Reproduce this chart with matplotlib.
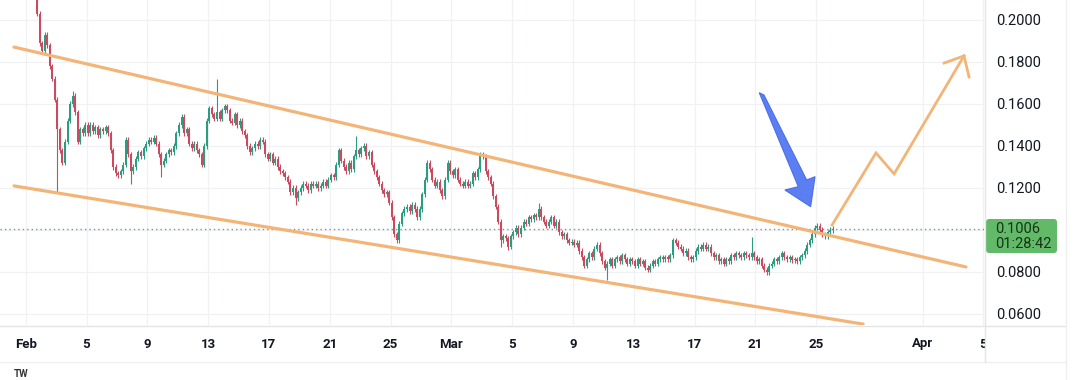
import numpy as np
import matplotlib.pyplot as plt
from matplotlib.patches import Polygon, FancyBboxPatch, Rectangle

# 4h closes, one row per day (Feb 1 = day 0)
closes_by_day = [
    [0.203, 0.189],
    [0.185, 0.193, 0.188, 0.178, 0.172, 0.162],
    [0.148, 0.138, 0.132, 0.142, 0.152, 0.160],
    [0.164, 0.156, 0.142, 0.148, 0.146, 0.150],
    [0.146, 0.150, 0.147, 0.149, 0.145, 0.148],
    [0.147, 0.149, 0.146, 0.138, 0.130, 0.127],
    [0.126, 0.128, 0.131, 0.143, 0.136, 0.128],
    [0.130, 0.134, 0.137, 0.135, 0.139, 0.141],
    [0.143, 0.142, 0.144, 0.141, 0.136, 0.131],
    [0.133, 0.136, 0.138, 0.137, 0.140, 0.146],
    [0.150, 0.154, 0.146, 0.148, 0.141, 0.139],
    [0.141, 0.138, 0.136, 0.131, 0.140, 0.152],
    [0.158, 0.155, 0.153, 0.156, 0.153, 0.157],
    [0.159, 0.157, 0.152, 0.151, 0.155, 0.150],
    [0.152, 0.147, 0.145, 0.140, 0.137, 0.139],
    [0.141, 0.140, 0.143, 0.142, 0.136, 0.134],
    [0.136, 0.132, 0.134, 0.130, 0.128, 0.127],
    [0.125, 0.123, 0.118, 0.120, 0.115, 0.118],
    [0.120, 0.122, 0.121, 0.119, 0.122, 0.121],
    [0.122, 0.120, 0.121, 0.123, 0.121, 0.124],
    [0.126, 0.125, 0.131, 0.138, 0.133, 0.130],
    [0.128, 0.132, 0.129, 0.135, 0.138, 0.136],
    [0.139, 0.140, 0.135, 0.137, 0.131, 0.128],
    [0.125, 0.122, 0.119, 0.117, 0.118, 0.113],
    [0.106, 0.098, 0.095, 0.103, 0.108, 0.110],
    [0.111, 0.109, 0.112, 0.110, 0.106, 0.110],
    [0.117, 0.124, 0.132, 0.129, 0.124, 0.121],
    [0.123, 0.119, 0.116, 0.124, 0.132, 0.128],
    [0.126, 0.129, 0.124, 0.122, 0.121, 0.123],
    [0.121, 0.122, 0.127, 0.125, 0.129, 0.136],
    [0.135, 0.128, 0.125, 0.122, 0.116, 0.111],
    [0.104, 0.095, 0.097, 0.096, 0.092, 0.097],
    [0.099, 0.101, 0.098, 0.101, 0.104, 0.103],
    [0.106, 0.105, 0.107, 0.106, 0.110, 0.106],
    [0.104, 0.102, 0.104, 0.106, 0.102, 0.104],
    [0.099, 0.097, 0.098, 0.095, 0.094, 0.0945],
    [0.093, 0.094, 0.090, 0.087, 0.083, 0.086],
    [0.089, 0.087, 0.091, 0.093, 0.089, 0.085],
    [0.082, 0.084, 0.086, 0.083, 0.086, 0.087],
    [0.085, 0.088, 0.086, 0.084, 0.086, 0.085],
    [0.083, 0.086, 0.084, 0.085, 0.082, 0.081],
    [0.083, 0.085, 0.084, 0.086, 0.087, 0.086],
    [0.087, 0.086, 0.088, 0.095, 0.094, 0.092],
    [0.091, 0.089, 0.090, 0.087, 0.086, 0.087],
    [0.090, 0.092, 0.091, 0.093, 0.091, 0.092],
    [0.089, 0.087, 0.088, 0.085, 0.086, 0.084],
    [0.086, 0.085, 0.088, 0.087, 0.089, 0.088],
    [0.087, 0.089, 0.088, 0.087, 0.089, 0.087],
    [0.085, 0.086, 0.083, 0.081, 0.080, 0.083],
    [0.084, 0.086, 0.085, 0.087, 0.089, 0.087],
    [0.086, 0.087, 0.0855, 0.086, 0.085, 0.087],
    [0.088, 0.090, 0.093, 0.095, 0.098, 0.101],
    [0.102, 0.100, 0.098, 0.097, 0.099, 0.100],
    [0.1006],
]
first_open = 0.212
first_candle_day = 0.75
# long wicks visible on the chart, by candle index
spike_highs = {14: 0.166, 71: 0.172, 126: 0.1448, 198: 0.1127, 251: 0.0962, 282: 0.0967}
spike_lows = {8: 0.118, 37: 0.1217, 49: 0.125, 102: 0.112, 142: 0.0938,
              183: 0.092, 186: 0.0905, 225: 0.0762}
last_price = 0.1006
countdown = "01:28:42"

# drawings (day, price)
upper_channel_x = [-0.77, 61.86]
upper_channel_y = [0.1871, 0.0824]
lower_channel_x = [-0.77, 55.09]
lower_channel_y = [0.1210, 0.0552]
path_x = [53.05, 55.94, 57.13, 61.73]
path_y = [0.1024, 0.1367, 0.1267, 0.1829]
head_x = [60.42, 61.73, 62.06]
head_y = [0.1795, 0.1829, 0.1729]
blue_x = [48.26, 48.57, 51.38, 51.93, 51.64, 49.95, 50.83]
blue_y = [0.16538, 0.16429, 0.12381, 0.12538, 0.11110, 0.11905, 0.12062]

tick_days = [0, 4, 8, 12, 16, 20, 24, 28, 32, 36, 40, 44, 48, 52, 59, 63]
tick_labels = ['Feb', '5', '9', '13', '17', '21', '25', 'Mar', '5', '9', '13', '17', '21', '25', 'Apr', '5']
price_ticks = [0.06, 0.08, 0.10, 0.12, 0.14, 0.16, 0.18, 0.20]

closes = np.array([c for row in closes_by_day for c in row])
opens = np.concatenate([[first_open], closes[:-1]])
days = first_candle_day + np.arange(len(closes)) / 6
wick = 0.0012
highs = np.maximum(opens, closes) + wick
lows = np.minimum(opens, closes) - wick
for i, v in spike_highs.items():
    highs[i] = v
for i, v in spike_lows.items():
    lows[i] = v

up_col = '#2a9d80'
down_col = '#cc4a60'
orange = '#f2b577'
W, H = 1079, 380

plt.rcParams['font.family'] = ['Roboto', 'DejaVu Sans']
fig = plt.figure(figsize=(W / 100, H / 100), dpi=100)
ax = fig.add_axes([0, 1 - 325 / H, 984 / W, 325 / H])
ax.set_xlim(-1.691, 63.046)
ax.set_ylim(0.05476, 0.20952)

colors = np.where(closes >= opens, up_col, down_col)
ax.vlines(days, lows, highs, colors=colors, lw=0.8, zorder=3)
ax.bar(days, np.maximum(np.abs(closes - opens), 0.0004), bottom=np.minimum(opens, closes),
       width=0.13, color=colors, zorder=3, linewidth=0)

ax.plot(upper_channel_x, upper_channel_y, color=orange, lw=2.3, solid_capstyle='round', zorder=4)
ax.plot(lower_channel_x, lower_channel_y, color=orange, lw=2.3, solid_capstyle='round', zorder=4)
ax.plot(path_x, path_y, color=orange, lw=2.0, solid_joinstyle='miter', zorder=4)
ax.plot(head_x, head_y, color=orange, lw=2.0, solid_joinstyle='miter', zorder=4)
ax.add_patch(Polygon(np.column_stack([blue_x, blue_y]), closed=True, facecolor='#5b7ff2',
                     edgecolor='#4a6ee6', lw=0.8, zorder=5))

ax.axhline(last_price, color='#7f9488', lw=1.0, linestyle=(0, (1, 2.2)), zorder=2)

ax.set_xticks(tick_days)
ax.set_xticklabels(tick_labels, fontsize=9.5, fontweight='semibold', color='#131722')
ax.yaxis.tick_right()
ax.set_yticks(price_ticks)
ax.set_yticklabels(['' if abs(p - 0.10) < 1e-9 else f'{p:.4f}' for p in price_ticks],
                   fontsize=10.5, color='#131722')
ax.tick_params(axis='x', length=0, pad=9)
ax.tick_params(axis='y', length=0, pad=8.5)
for lab in ax.get_yticklabels():
    lab.set_horizontalalignment('left')
ax.grid(True, color='#f0f1f4', lw=0.9, zorder=0)
for s in ax.spines.values():
    s.set_visible(False)

# overlay in pixel coordinates for panes, price label
ov = fig.add_axes([0, 0, 1, 1], zorder=10)
ov.set_xlim(0, W)
ov.set_ylim(H, 0)
ov.axis('off')
ov.patch.set_alpha(0)
ov.add_patch(Rectangle((984.5, 326), W, 36, facecolor='white', edgecolor='none'))
ov.plot([0, 1066], [325.5, 325.5], color='#e3e4e8', lw=1.0)
ov.plot([0, 1066], [362, 362], color='#eeeff2', lw=1.0)
ov.plot([984.5, 984.5], [0, 362], color='#e3e4e8', lw=1.0)
ov.plot([1066, 1066], [0, 380], color='#eeeff2', lw=1.0)
ov.add_patch(FancyBboxPatch((986, 219), 71, 34, boxstyle='round,pad=0,rounding_size=3',
                            facecolor='#62ba69', edgecolor='none'))
ov.text(995, 229, f'{last_price:.4f}', fontsize=10.5, color='#163318', va='center', ha='left')
ov.text(995, 244, countdown, fontsize=10.5, color='#163318', va='center', ha='left')
ov.text(14, 374, 'TW', fontsize=7, fontweight='bold', color='#333333', va='center', ha='left')

fig.savefig('out.png', dpi=100)
